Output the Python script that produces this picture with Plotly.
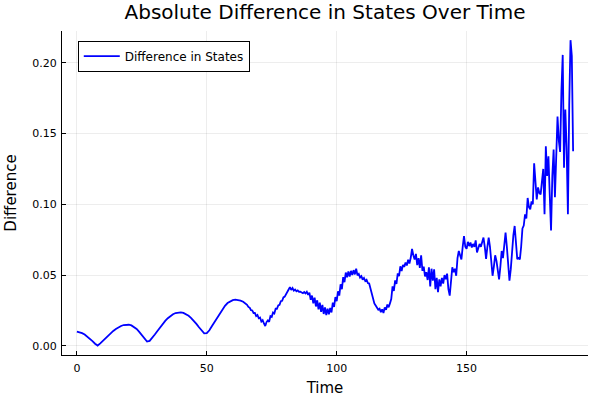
import plotly.graph_objects as go

# ---- data ----
time_smooth = list(range(0, 64))
diff_smooth = [
    0.0100, 0.0097, 0.0090, 0.0080, 0.0066, 0.0050, 0.0033, 0.0015, 0.0002, 0.0017,
    0.0035, 0.0055, 0.0072, 0.0089, 0.0105, 0.0119, 0.0131, 0.0140, 0.0147, 0.0150,
    0.0149, 0.0144, 0.0134, 0.0119, 0.0099, 0.0075, 0.0049, 0.0030, 0.0035, 0.0055,
    0.0080, 0.0105, 0.0130, 0.0155, 0.0176, 0.0195, 0.0211, 0.0223, 0.0232, 0.0237,
    0.0237, 0.0233, 0.0224, 0.0212, 0.0196, 0.0177, 0.0155, 0.0131, 0.0107, 0.0088,
    0.0090, 0.0110, 0.0140, 0.0170, 0.0200, 0.0230, 0.0260, 0.0283, 0.0302, 0.0315,
    0.0323, 0.0326, 0.0325, 0.0320,
]

time_noisy = [64, 65] + [65.5 + 0.5 * i for i in range(252)]
diff_noisy = [
    0.0312, 0.0298,
    0.0290, 0.0275, 0.0270, 0.0252, 0.0250, 0.0232, 0.0232, 0.0210, 0.0218, 0.0195,
    0.0200, 0.0172, 0.0182, 0.0158, 0.0140, 0.0168, 0.0180, 0.0170, 0.0210, 0.0205,
    0.0235, 0.0228, 0.0262, 0.0262, 0.0285, 0.0290, 0.0315, 0.0318, 0.0342, 0.0348,
    0.0368, 0.0378, 0.0398, 0.0415, 0.0395, 0.0408, 0.0390, 0.0398, 0.0386, 0.0392,
    0.0382, 0.0382, 0.0374, 0.0372, 0.0380, 0.0370, 0.0382, 0.0360, 0.0375, 0.0325,
    0.0355, 0.0300, 0.0340, 0.0278, 0.0322, 0.0258, 0.0305, 0.0240, 0.0290, 0.0225,
    0.0272, 0.0218, 0.0262, 0.0222, 0.0268, 0.0236, 0.0305, 0.0275, 0.0345, 0.0315,
    0.0385, 0.0355, 0.0435, 0.0400, 0.0485, 0.0450, 0.0518, 0.0485, 0.0525, 0.0490,
    0.0530, 0.0500, 0.0535, 0.0505, 0.0545, 0.0498, 0.0508, 0.0483, 0.0493, 0.0468,
    0.0480, 0.0458, 0.0467, 0.0443, 0.0440, 0.0400, 0.0360, 0.0330, 0.0300, 0.0285,
    0.0265, 0.0255, 0.0262, 0.0238, 0.0258, 0.0232, 0.0272, 0.0255, 0.0292, 0.0272,
    0.0300, 0.0330, 0.0420, 0.0388, 0.0462, 0.0438, 0.0512, 0.0492, 0.0562, 0.0528,
    0.0572, 0.0558, 0.0588, 0.0568, 0.0608, 0.0582, 0.0622, 0.0685, 0.0640, 0.0610,
    0.0650, 0.0570, 0.0620, 0.0550, 0.0640, 0.0530, 0.0560, 0.0490, 0.0520, 0.0465,
    0.0555, 0.0420, 0.0545, 0.0460, 0.0540, 0.0400, 0.0480, 0.0380, 0.0470, 0.0420,
    0.0480, 0.0440, 0.0500, 0.0470, 0.0510, 0.0400, 0.0355, 0.0470, 0.0555, 0.0520,
    0.0545, 0.0495, 0.0620, 0.0670, 0.0640, 0.0610, 0.0700, 0.0775, 0.0700, 0.0685,
    0.0735, 0.0705, 0.0730, 0.0695, 0.0720, 0.0700, 0.0745, 0.0660, 0.0690, 0.0720,
    0.0700, 0.0740, 0.0765, 0.0700, 0.0615, 0.0700, 0.0765, 0.0700, 0.0580, 0.0495,
    0.0560, 0.0640, 0.0600, 0.0520, 0.0470, 0.0560, 0.0670, 0.0620, 0.0720, 0.0800,
    0.0700, 0.0560, 0.0460, 0.0540, 0.0700, 0.0780, 0.0847, 0.0700, 0.0613, 0.0620,
    0.0610, 0.0700, 0.0830, 0.0850, 0.0930, 0.0900, 0.1045, 0.0980, 0.0965, 0.1020,
    0.1000, 0.1290, 0.1150, 0.1035, 0.1120, 0.1080, 0.1070, 0.1150, 0.1250, 0.0930,
    0.1410, 0.1200, 0.1340, 0.1070, 0.0815, 0.1200, 0.1387, 0.1050, 0.1300, 0.1620,
    0.1450, 0.1370, 0.1800, 0.2056, 0.1258, 0.1670, 0.1400, 0.0930, 0.1700, 0.2160,
    0.2050, 0.1375,
]
time_noisy = time_noisy[:len(diff_noisy)]

time = time_smooth + time_noisy
diff = diff_smooth + diff_noisy

x_ticks = [0, 50, 100, 150]
y_ticks = [0.00, 0.05, 0.10, 0.15, 0.20]

title_text = "Absolute Difference in States Over Time"
x_label = "Time"
y_label = "Difference"
series_name = "Difference in States"

# ---- figure ----
tmax = max(time)
dmax = max(diff)
xpad = 0.03 * tmax
ypad = 0.03 * dmax

fig = go.Figure()
fig.add_trace(go.Scatter(
    x=time, y=diff, mode="lines", name=series_name,
    line=dict(color="#0000ff", width=1.8),
))

font_family = "DejaVu Sans"
fig.update_layout(
    width=600, height=400,
    paper_bgcolor="white", plot_bgcolor="white",
    margin=dict(l=62, r=12, t=31, b=45, autoexpand=False),
    font=dict(family=font_family, color="black"),
    title=dict(text=title_text, x=0.5, xref="paper", xanchor="center",
               y=1 - 12 / 400, yanchor="middle", automargin=False,
               font=dict(size=20, family=font_family, color="black")),
    showlegend=True,
    legend=dict(x=0.03, y=0.97, xanchor="left", yanchor="top",
                bgcolor="white", bordercolor="black", borderwidth=1,
                font=dict(size=12, family=font_family, color="black"),
                itemwidth=36, tracegroupgap=0),
)
fig.update_xaxes(
    range=[-xpad, tmax + xpad], automargin=False,
    tickvals=x_ticks, ticktext=[str(v) for v in x_ticks],
    showgrid=True, gridcolor="rgba(0,0,0,0.07)", gridwidth=0.8,
    zeroline=False, showline=True, linecolor="black", linewidth=1,
    ticks="inside", ticklen=4, tickcolor="black", ticklabelstandoff=3,
    tickfont=dict(size=11, family=font_family, color="black"),
    title=dict(text=x_label, font=dict(size=15, family=font_family, color="black"), standoff=8),
)
fig.update_yaxes(
    range=[-ypad, dmax + ypad], automargin=False,
    tickvals=y_ticks, ticktext=[f"{v:.2f}" for v in y_ticks],
    showgrid=True, gridcolor="rgba(0,0,0,0.07)", gridwidth=0.8,
    zeroline=False, showline=True, linecolor="black", linewidth=1,
    ticks="inside", ticklen=4, tickcolor="black", ticklabelstandoff=2,
    tickfont=dict(size=11, family=font_family, color="black"),
    title=dict(text=y_label, font=dict(size=15, family=font_family, color="black"), standoff=12),
)

fig.write_html("out.html", config={"displayModeBar": False},
               post_script="document.body.style.margin='0';")
